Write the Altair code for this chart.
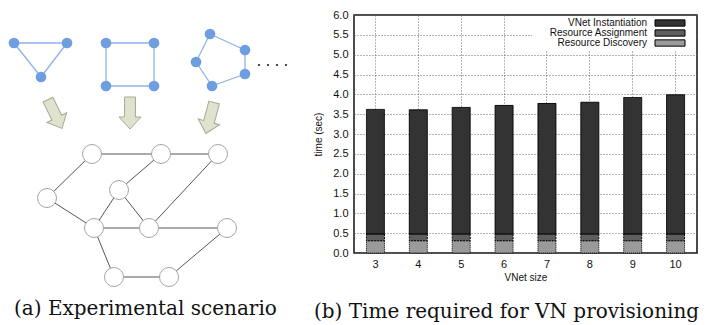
import altair as alt
import pandas as pd

# ---------------- (a) experimental scenario: diagram data (reference pixel coords) -------------
tri_x = [9, 62, 36]
tri_y = [42, 42, 76]
sq_x = [101, 149, 149, 101]
sq_y = [42, 42, 85, 85]
pent_x = [205, 240, 240, 207, 191]
pent_y = [33, 49, 73, 85, 61]
dots_x = [254, 263, 272, 281]
dots_y = [64, 64, 64, 64]
arrow_x = [50, 125, 205]
arrow_y = [113, 112, 117]
arrow_angle = [334, 0, 15]
net_x = [87, 156, 213, 42, 114, 89, 144, 222, 109, 164]
net_y = [153, 153, 153, 197, 189, 227, 227, 227, 276, 276]
net_edges = [(0, 1), (1, 2), (0, 3), (1, 4), (2, 6), (3, 5), (4, 5), (4, 6),
             (5, 6), (6, 7), (5, 8), (8, 9), (9, 7)]

# ---------------- (b) time required for VN provisioning -------------
vnet_size = ["3", "4", "5", "6", "7", "8", "9", "10"]
vnet_instantiation = [3.14, 3.13, 3.19, 3.24, 3.29, 3.32, 3.44, 3.51]
resource_assignment = [0.17, 0.17, 0.17, 0.17, 0.17, 0.17, 0.17, 0.17]
resource_discovery = [0.31, 0.31, 0.31, 0.31, 0.31, 0.31, 0.31, 0.31]
series_names = ["VNet Instantiation", "Resource Assignment", "Resource Discovery"]
series_colors = ["#333333", "#5e5e5e", "#9a9a9a"]
y_ticks = [0.0, 0.5, 1.0, 1.5, 2.0, 2.5, 3.0, 3.5, 4.0, 4.5, 5.0, 5.5, 6.0]

caption_a = "(a) Experimental scenario"
caption_b = "(b) Time required for VN provisioning"

# ---------------- build tables -------------
def ring(xs, ys):
    n = len(xs)
    return [dict(x=xs[i], y=ys[i], x2=xs[(i + 1) % n], y2=ys[(i + 1) % n]) for i in range(n)]

small_edges = pd.DataFrame(ring(tri_x, tri_y) + ring(sq_x, sq_y) + ring(pent_x, pent_y))
small_nodes = pd.DataFrame({"x": tri_x + sq_x + pent_x, "y": tri_y + sq_y + pent_y})
dots = pd.DataFrame({"x": dots_x, "y": dots_y})
arrows = pd.DataFrame({"x": arrow_x, "y": arrow_y, "angle": arrow_angle})
net_nodes = pd.DataFrame({"x": net_x, "y": net_y})
big_edges = pd.DataFrame([dict(x=net_x[a], y=net_y[a], x2=net_x[b], y2=net_y[b]) for a, b in net_edges])
cap_a_df = pd.DataFrame({"x": [9], "y": [314], "text": [caption_a]})

xs = alt.Scale(domain=[3, 307], nice=False, zero=False)
ys = alt.Scale(domain=[14, 320], nice=False, zero=False, reverse=True)

def enc_xy(ch):
    return ch.encode(x=alt.X("x:Q", scale=xs, axis=None), y=alt.Y("y:Q", scale=ys, axis=None))

small_edge_layer = alt.Chart(small_edges).mark_rule(color="#8fb2e8", strokeWidth=1.3).encode(
    x=alt.X("x:Q", scale=xs, axis=None), y=alt.Y("y:Q", scale=ys, axis=None), x2="x2:Q", y2="y2:Q")
small_node_layer = enc_xy(alt.Chart(small_nodes).mark_circle(size=115, color="#6f9ee0", opacity=1))
dot_layer = enc_xy(alt.Chart(dots).mark_circle(size=5, color="#222222", opacity=1))
arrow_path = "M-0.34,-1L0.34,-1L0.34,0.25L0.69,0.25L0,1L-0.69,0.25L-0.34,0.25Z"
arrow_layer = enc_xy(alt.Chart(arrows).mark_point(
    shape=arrow_path, filled=True, fill="#dfe2cc", stroke="#a7a996", strokeWidth=1,
    size=1024, opacity=1)).encode(angle=alt.Angle("angle:Q", scale=None))
big_edge_layer = alt.Chart(big_edges).mark_rule(color="#555555", strokeWidth=1).encode(
    x=alt.X("x:Q", scale=xs, axis=None), y=alt.Y("y:Q", scale=ys, axis=None), x2="x2:Q", y2="y2:Q")
big_node_layer = enc_xy(alt.Chart(net_nodes).mark_point(
    shape="circle", filled=True, fill="white", stroke="#a5a5a5", strokeWidth=1,
    size=361, opacity=1))
cap_a_layer = enc_xy(alt.Chart(cap_a_df).mark_text(
    align="left", baseline="alphabetic", font="DejaVu Serif", fontSize=20,
    color="#111111")).encode(text="text:N")

left = alt.layer(small_edge_layer, small_node_layer, dot_layer, arrow_layer,
                 big_edge_layer, big_node_layer, cap_a_layer).properties(
    width=304, height=306, view=alt.ViewBackground(stroke=None, fill="white"))

# ---------------- bar chart -------------
rows = []
for i, s in enumerate(vnet_size):
    rows.append(dict(size=s, series=series_names[2], value=resource_discovery[i], ord=0))
    rows.append(dict(size=s, series=series_names[1], value=resource_assignment[i], ord=1))
    rows.append(dict(size=s, series=series_names[0], value=vnet_instantiation[i], ord=2))
bars_df = pd.DataFrame(rows)
legend_df = pd.DataFrame({"series": series_names})
legend_box_df = pd.DataFrame({"k": [0]})

FONT = "Liberation Sans"
color_scale = alt.Scale(domain=series_names, range=series_colors)

bars = alt.Chart(bars_df).mark_bar(size=18, stroke="black", strokeWidth=1).encode(
    x=alt.X("size:O", sort=vnet_size, title="VNet size",
            axis=alt.Axis(labelAngle=0, grid=True, gridDash=[1, 2], gridColor="#666666",
                          bandPosition=0.5, ticks=False, tickSize=0, domain=False,
                          labelPadding=5, labelFont=FONT, labelFontSize=11, labelColor="#111111",
                          titleFont=FONT, titleFontSize=10, titleFontWeight="normal",
                          titleColor="#111111", titlePadding=3)),
    y=alt.Y("value:Q", stack="zero", title="time (sec)",
            scale=alt.Scale(domain=[0, 6], nice=False),
            axis=alt.Axis(values=y_ticks, format=".1f", grid=True, gridDash=[1, 2],
                          gridColor="#666666", ticks=False, tickSize=0, domain=False,
                          labelPadding=6, labelFont=FONT, labelFontSize=11, labelColor="#111111",
                          titleFont=FONT, titleFontSize=10, titleFontWeight="normal",
                          titleColor="#111111", titlePadding=9)),
    color=alt.Color("series:N", scale=color_scale, legend=None),
    strokeDash=alt.StrokeDash("series:N",
                              scale=alt.Scale(domain=series_names, range=[[1, 0], [2, 1], [1, 1]]),
                              legend=None),
    order=alt.Order("ord:Q"),
)

leg_y = alt.Y("series:N", scale=alt.Scale(type="point", domain=series_names, range=[8, 28], padding=0),
              axis=None)
legend_box = alt.Chart(legend_box_df).mark_rect(fill="white").encode(
    x=alt.value(178), x2=alt.value(342), y=alt.value(1), y2=alt.value(36))
legend_swatch = alt.Chart(legend_df).mark_point(
    shape="M-1,-0.21H1V0.21H-1Z", size=900, filled=True, stroke="black", strokeWidth=1,
    opacity=1).encode(x=alt.value(316), y=leg_y,
                      color=alt.Color("series:N", scale=color_scale, legend=None))
legend_text = alt.Chart(legend_df).mark_text(
    align="right", baseline="middle", font=FONT, fontSize=10, color="#111111").encode(
    x=alt.value(293), y=leg_y, text="series:N")

right = alt.layer(bars, legend_box, legend_swatch, legend_text).resolve_scale(
    y="independent").properties(
    width=343, height=238,
    view=alt.ViewBackground(stroke="#111111", strokeWidth=1.5, fill="white"),
    title=alt.TitleParams(caption_b, orient="bottom", anchor="start", frame="group", dx=-40,
                          offset=20, font="DejaVu Serif", fontSize=20, fontWeight="normal",
                          color="#111111"))

chart = alt.hconcat(left, right, spacing=0).properties(padding=0).configure(background="white")

chart.save("out.html", embed_options={"renderer": "svg", "actions": False})
